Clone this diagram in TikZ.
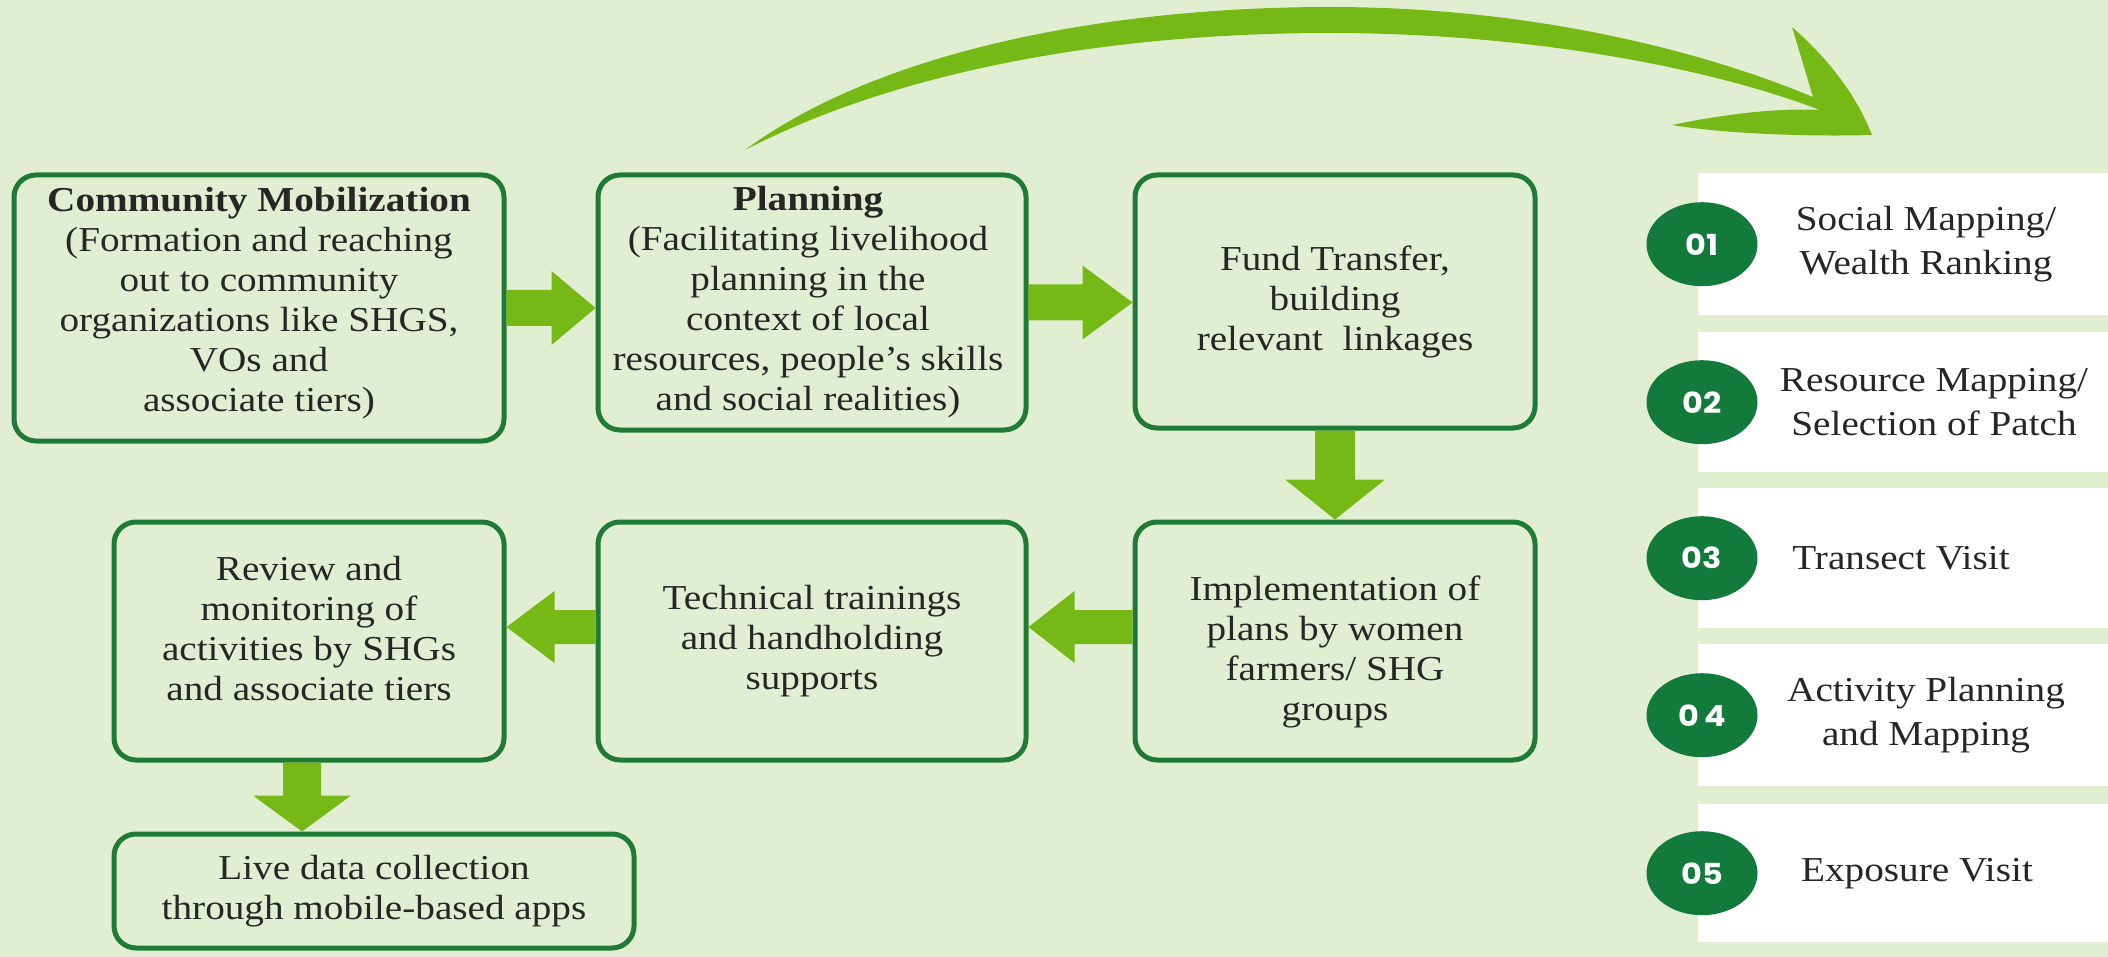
\documentclass[tikz,border=0pt]{standalone}
\usepackage{fontspec}
\setmainfont{Liberation Serif}[FakeStretch=1.12]
\newfontfamily\numfont{Poppins}[FakeStretch=1.1]
\usetikzlibrary{calc,shapes.geometric}
\definecolor{bgc}{HTML}{E2EED2}
\definecolor{boxline}{HTML}{1E7A34}
\definecolor{arrowc}{HTML}{76B816}
\definecolor{circc}{HTML}{127A3A}
\tikzset{
  stepbox/.style={draw=boxline, line width=5pt, rounded corners=22pt, fill=bgc, inner sep=0pt},
  boxtext/.style={align=center, font=\fontsize{35}{40}\selectfont, text=black!85, inner sep=0pt},
  sidetext/.style={align=center, font=\fontsize{35}{44}\selectfont, text=black!85, inner sep=0pt},
  sidebar/.style={fill=white, draw=none, inner sep=0pt, anchor=north west, minimum width=410pt},
  numdot/.style={ellipse, fill=circc, minimum width=111pt, minimum height=84pt, inner sep=0pt,
     text=white, font=\numfont\bfseries\fontsize{29}{29}\selectfont},
  blockarrow/.style={fill=arrowc, draw=none},
}
% block arrows: #1 start, #2 end, #3 shaft half width, #4 head half width, #5 head length
\newcommand\rightblock[5]{\fill[blockarrow] let \p1=(#1), \p2=(#2) in
  ({\x1},{\y1+#3}) -- ({\x2-#5},{\y1+#3}) -- ({\x2-#5},{\y1+#4}) -- ({\x2},{\y1})
  -- ({\x2-#5},{\y1-#4}) -- ({\x2-#5},{\y1-#3}) -- ({\x1},{\y1-#3}) -- cycle;}
\newcommand\leftblock[5]{\fill[blockarrow] let \p1=(#1), \p2=(#2) in
  ({\x1},{\y1+#3}) -- ({\x2+#5},{\y1+#3}) -- ({\x2+#5},{\y1+#4}) -- ({\x2},{\y1})
  -- ({\x2+#5},{\y1-#4}) -- ({\x2+#5},{\y1-#3}) -- ({\x1},{\y1-#3}) -- cycle;}
\newcommand\downblock[5]{\fill[blockarrow] let \p1=(#1), \p2=(#2) in
  ({\x1+#3},{\y1}) -- ({\x1+#3},{\y2+#5}) -- ({\x1+#4},{\y2+#5}) -- ({\x1},{\y2})
  -- ({\x1-#4},{\y2+#5}) -- ({\x1-#3},{\y2+#5}) -- ({\x1-#3},{\y1}) -- cycle;}
\begin{document}
\begin{tikzpicture}[x=1pt,y=-1pt]
\useasboundingbox (0,0) rectangle (2108,957);
\fill[bgc] (0,0) rectangle (2108,957);

% curved arrow
\fill[blockarrow] (745,150) .. controls (880,50) and (1110,7) .. (1330,7)
  .. controls (1530,7) and (1700,50) .. (1813,97)
  -- (1792,27) .. controls (1835,65) and (1858,100) .. (1872,135)
  .. controls (1800,137) and (1720,133) .. (1672,125)
  .. controls (1730,113) and (1780,108) .. (1820,110)
  .. controls (1710,68) and (1530,33) .. (1330,33)
  .. controls (1110,33) and (900,70) .. (745,150) -- cycle;

% boxes
\node[stepbox, minimum width=490pt, minimum height=266pt] (b1) at (259,308) {};
\node[stepbox, minimum width=428pt, minimum height=255pt] (b2) at (812,302.5) {};
\node[stepbox, minimum width=400pt, minimum height=253pt] (b3) at (1335,301.5) {};
\node[stepbox, minimum width=400pt, minimum height=238pt] (b4) at (1335,641) {};
\node[stepbox, minimum width=428pt, minimum height=238pt] (b5) at (812,641) {};
\node[stepbox, minimum width=390pt, minimum height=238pt] (b6) at (309,641) {};
\node[stepbox, minimum width=520pt, minimum height=114pt] (b7) at (374,891) {};

\node[boxtext] (t1) at ($(b1.center)+(0,-5)$) {\textbf{Community Mobilization}\\(Formation and reaching\\out to community\\organizations like SHGS,\\VOs and\\associate tiers)};
\node[boxtext] (t2) at ($(b2.center)+(-4,0)$) {\textbf{Planning}\\(Facilitating livelihood\\planning in the\\context of local\\resources, people's skills\\and social realities)};
\node[boxtext] (t3) at (b3.center) {Fund Transfer,\\building\\relevant \ linkages};
\node[boxtext] (t4) at ($(b4.center)+(0,11)$) {Implementation of\\plans by women\\farmers/ SHG\\groups};
\node[boxtext] (t5) at (b5.center) {Technical trainings\\and handholding\\supports};
\node[boxtext] (t6) at ($(b6.center)+(0,-12)$) {Review and\\monitoring of\\activities by SHGs\\and associate tiers};
\node[boxtext] (t7) at (b7.center) {Live data collection\\through mobile-based apps};

% block arrows
\rightblock{b1.east}{b2.west}{18pt}{37pt}{44pt}
\rightblock{b2.east}{b3.west}{18pt}{37pt}{50pt}
\coordinate (a34s) at (b3.south);
\coordinate (a34e) at (a34s |- b4.north);
\downblock{a34s}{a34e}{20pt}{50pt}{40pt}
\coordinate (a45s) at ($(b4.west)+(0,-14)$);
\coordinate (a45e) at (a45s -| b5.east);
\leftblock{a45s}{a45e}{17pt}{36pt}{46pt}
\coordinate (a56s) at ($(b5.west)+(0,-14)$);
\coordinate (a56e) at (a56s -| b6.east);
\leftblock{a56s}{a56e}{17pt}{36pt}{48pt}
\coordinate (a67s) at ($(b6.south)+(-7,0)$);
\coordinate (a67e) at (a67s |- b7.north);
\downblock{a67s}{a67e}{19pt}{49pt}{36pt}

% right panel
\node[sidebar, minimum height=142pt] (r1) at (1698,173) {};
\node[sidebar, minimum height=140pt] (r2) at (1698,332) {};
\node[sidebar, minimum height=140pt] (r3) at (1698,488) {};
\node[sidebar, minimum height=142pt] (r4) at (1698,644) {};
\node[sidebar, minimum height=138pt] (r5) at (1698,804) {};

\node[numdot] (n1) at ($(r1.west)+(4,0)$) {01};
\node[numdot] (n2) at ($(r2.west)+(4,0)$) {02};
\node[numdot] (n3) at ($(r3.west)+(4,0)$) {03};
\node[numdot] (n4) at ($(r4.west)+(4,0)$) {0\,4};
\node[numdot] (n5) at ($(r5.west)+(4,0)$) {05};

\node[sidetext] (s1) at (r1.center -| 1926,0) {Social Mapping/\\Wealth Ranking};
\node[sidetext] (s2) at (r2.center -| 1934,0) {Resource Mapping/\\Selection of Patch};
\node[sidetext] (s3) at (r3.center -| 1901,0) {Transect Visit};
\node[sidetext] (s4) at (r4.center -| 1926,0) {Activity Planning\\and Mapping};
\node[sidetext] (s5) at (r5.center -| 1917,0) {Exposure Visit};
\end{tikzpicture}
\end{document}
